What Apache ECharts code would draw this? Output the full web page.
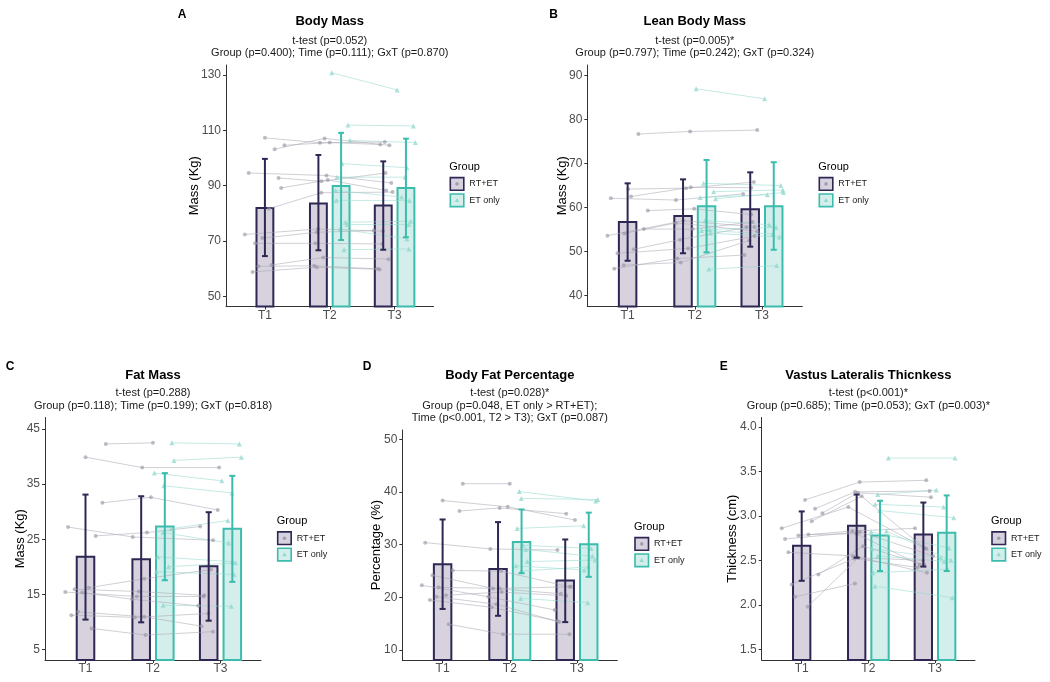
<!DOCTYPE html>
<html><head><meta charset="utf-8">
<script src="https://cdn.jsdelivr.net/npm/echarts@6/dist/echarts.min.js"></script>
<style>html,body{margin:0;padding:0;background:#fff}#c{width:1050px;height:682px}</style>
</head><body><div id="c"></div>
<script>
// ---------- shared categories ----------
const timeLabels = ['T1', 'T2', 'T3'];
const groupNames = ['RT+ET', 'ET only'];

// ---------- A: Body Mass ----------
const A_rtVals = [[107.3,105.5,105.8],[103.2,107.1,104.6],[104.6,105.6,104.9],[94.6,93.7,91.0],[92.8,91.6,94.6],[89.2,92.1,88.3],[81.7,87.5,87.7],[72.4,74.4,73.6],[71.1,73.2,73.8],[69.2,69.2,69.0],[61.4,64.1,63.5],[60.9,61.1,60.0],[58.9,60.6,59.8]];
const A_rtX = [[1.00,1.85,2.85],[1.15,1.92,2.92],[1.30,2.00,2.78],[0.75,1.95,2.95],[1.21,1.87,2.86],[1.25,1.97,2.87],[1.06,1.87,2.97],[0.69,1.82,2.82],[0.96,1.80,2.68],[0.85,1.78,2.81],[1.10,1.90,2.91],[0.90,1.76,2.74],[0.81,1.80,2.77]];
const A_etVals = [[130.8,124.6],[111.9,111.6],[106.4,105.6],[98.0,96.5],[93.1,93.1],[88.3,85.9],[84.7,84.7],[76.8,77.2],[76.0,76.0],[74.4,70.8],[66.9,67.2]];
const A_etX = [[2.03,3.04],[2.28,3.29],[2.31,3.32],[2.19,3.19],[2.11,3.16],[2.09,3.11],[2.10,3.23],[2.24,3.25],[2.27,3.22],[2.16,3.19],[2.22,3.22]];
const A_rtMean = [82.0, 83.6, 82.9];
const A_rtErr = [[64.6,99.7],[66.7,101.1],[66.9,98.8]];
const A_etMean = [89.9, 89.2];
const A_etErr = [[70.4,109.1],[71.4,107.0]];
const A_yTicks = [50, 70, 90, 110, 130];

// ---------- B: Lean Body Mass ----------
const B_rtVals = [[76.7,77.3,77.6],[64.2,64.4,65.8],[62.5,64.6,64.5],[62.1,61.7,63.1],[59.3,59.7,58.4],[55.1,55.1,56.7],[54.1,56.5,54.6],[53.6,57.0,55.6],[50.5,52.7,55.5],[49.6,50.7,53.5],[46.1,48.4,49.2],[46.9,47.5,52.5]];
const B_rtX = [[1.16,1.93,2.93],[1.01,1.87,2.88],[1.05,1.94,2.84],[0.75,1.72,2.72],[1.30,1.99,2.84],[1.24,1.97,2.86],[0.95,1.72,2.93],[0.70,1.83,2.89],[1.09,1.78,2.77],[0.85,1.90,2.89],[0.80,1.74,2.74],[0.94,1.79,2.81]];
const B_etVals = [[87.0,84.7],[65.5,65.0],[63.6,64.0],[62.0,63.4],[62.3,62.9],[57.0,56.1],[55.0,55.5],[54.8,54.0],[54.2,53.3],[46.0,46.8]];
const B_etX = [[2.02,3.04],[2.13,3.28],[2.28,3.31],[2.31,3.32],[2.08,3.08],[2.15,3.11],[2.22,3.21],[2.10,3.16],[2.23,3.26],[2.21,3.22]];
const B_rtMean = [56.7, 58.1, 59.6];
const B_rtErr = [[47.9,65.5],[49.6,66.4],[51.1,68.0]];
const B_etMean = [60.3, 60.3];
const B_etErr = [[49.8,70.8],[50.4,70.3]];
const B_yTicks = [40, 50, 60, 70, 80, 90];

// ---------- C: Fat Mass ----------
const C_rtVals = [[42.3,42.5,null],[39.9,38.0,38.0],[31.6,32.6,30.3],[27.2,25.4,24.8],[25.6,26.2,27.3],[16.2,17.8,19.5],[15.9,15.5,14.8],[15.4,14.6,14.6],[15.3,14.1,12.9],[11.8,10.9,9.2],[11.2,10.8,11.5],[8.8,7.6,8.2]];
const C_rtX = [[1.30,2.00,null],[1.00,1.84,2.98],[1.25,1.97,2.96],[0.74,1.70,2.89],[1.15,1.91,2.70],[1.05,1.87,2.86],[0.84,1.79,2.76],[0.70,1.76,2.75],[0.95,1.69,2.67],[0.89,1.87,2.72],[0.79,1.73,2.82],[1.09,1.89,2.89]];
const C_etVals = [[42.5,42.3],[39.3,39.9],[37.0,35.6],[34.7,33.4],[26.9,28.4],[26.2,24.3],[21.8,20.9],[20.0,20.7],[19.1,18.6],[13.0,12.8]];
const C_etX = [[2.28,3.28],[2.31,3.31],[2.02,3.02],[2.16,3.17],[2.27,3.11],[2.15,3.12],[2.07,3.18],[2.23,3.22],[2.05,3.20],[2.15,3.16]];
const C_rtMean = [21.8, 21.35, 20.1];
const C_rtErr = [[10.4,33.1],[9.9,32.8],[10.2,29.9]];
const C_etMean = [27.3, 26.9];
const C_etErr = [[17.55,37.0],[17.25,36.5]];
const C_yTicks = [5, 15, 25, 35, 45];

// ---------- D: Body Fat Percentage ----------
const D_rtVals = [[41.6,41.6,null],[38.4,37.2,34.7],[36.4,37.0,35.9],[30.4,29.2,29.0],[25.1,25.0,22.0],[24.2,21.7,20.7],[22.3,20.1,17.6],[21.9,21.7,22.0],[20.4,21.0,20.3],[20.1,18.7,15.3],[19.5,18.1,15.5],[14.9,13.0,13.0]];
const D_rtX = [[1.30,2.00,null],[1.00,1.97,2.97],[1.25,1.85,2.84],[0.74,1.71,2.71],[1.15,1.87,2.89],[0.85,1.75,2.76],[0.69,1.68,2.67],[0.94,1.85,2.91],[1.05,1.88,2.84],[0.91,1.80,2.74],[0.81,1.73,2.71],[1.09,1.90,2.89]];
const D_etVals = [[40.1,38.3],[38.8,38.6],[33.1,33.6],[29.9,29.3],[29.1,27.8],[26.8,27.1],[26.0,25.2],[25.0,25.8],[19.8,19.0]];
const D_etX = [[2.14,3.28],[2.17,3.31],[2.11,3.10],[2.19,3.21],[2.24,3.23],[2.26,3.27],[2.09,3.11],[2.17,3.17],[2.16,3.16]];
const D_rtMean = [26.3, 25.4, 23.2];
const D_rtErr = [[17.8,34.8],[16.5,34.3],[15.3,31.0]];
const D_etMean = [30.5, 30.1];
const D_etErr = [[24.6,36.7],[23.9,36.1]];
const D_yTicks = [10, 20, 30, 40, 50];

// ---------- E: Vastus Lateralis Thickness ----------
const E_rtVals = [[3.18,3.38,3.40],[3.08,3.27,3.28],[3.03,3.26,3.21],[2.94,3.22,2.64],[2.86,3.10,2.63],[2.78,2.83,2.86],[2.74,2.82,2.55],[2.79,2.80,2.45],[2.59,2.55,2.36],[2.34,2.66,2.45],[2.23,2.52,2.42],[2.09,2.24,null],[1.98,2.53,2.50]];
const E_rtX = [[1.05,1.87,2.87],[1.20,1.80,2.92],[1.31,1.84,2.94],[1.15,1.90,2.84],[0.70,1.70,2.87],[0.95,1.76,2.70],[0.75,1.87,2.97],[1.10,1.82,2.77],[0.80,1.77,2.88],[1.25,1.92,2.84],[0.85,1.79,2.74],[0.90,1.80,null],[1.09,1.85,2.82]];
const E_etVals = [[3.65,3.65],[3.24,3.29],[3.13,3.10],[3.06,2.98],[2.82,2.64],[2.83,2.50],[2.63,2.53],[2.55,2.49],[2.36,2.40],[2.21,2.08]];
const E_etX = [[2.30,3.30],[2.14,3.02],[2.10,3.13],[2.17,3.28],[2.04,3.21],[2.27,3.24],[2.05,3.09],[2.14,3.14],[2.07,3.19],[2.10,3.26]];
const E_rtMean = [2.665, 2.89, 2.79];
const E_rtErr = [[2.27,3.05],[2.53,3.24],[2.43,3.15]];
const E_etMean = [2.78, 2.81];
const E_etErr = [[2.38,3.17],[2.38,3.23]];
const E_yTicks = [1.5, 2.0, 2.5, 3.0, 3.5, 4.0];

// ---------- styles / layout ----------
const FONT = '"Liberation Sans", Arial, Helvetica, sans-serif';
const RT_STROKE = '#2e2653', RT_FILL = '#d7d2de';
const ET_STROKE = '#3bbcac', ET_FILL = '#d4eeeb';
const RT_PT = '#9691a2', ET_PT = '#8ad5ca';
const RT_LINE = '#aaa8b2', ET_LINE = '#93d8ce';
const BAR_W = 0.26, DODGE = 0.175, CAP = 0.045;
const RT_POS = [1, 2 - DODGE, 3 - DODGE];
const ET_POS = [2 + DODGE, 3 + DODGE];

const panels = [
  {tag:'A', title:'Body Mass', sub:['t-test (p=0.052)','Group (p=0.400); Time (p=0.111); GxT (p=0.870)'], yName:'Mass (Kg)',
   rtVals:A_rtVals, rtX:A_rtX, etVals:A_etVals, etX:A_etX, rtMean:A_rtMean, rtErr:A_rtErr, etMean:A_etMean, etErr:A_etErr, yTicks:A_yTicks, dec:0,
   yRange:[46.4,133.6], grid:{left:226,top:65,width:207.5,height:241.5}, tagXY:[182,15], titleY:21.7, subY:40.7, subGap:12, yNameX:194, leg:[449.3,166.7]},
  {tag:'B', title:'Lean Body Mass', sub:['t-test (p=0.005)*','Group (p=0.797); Time (p=0.242); GxT (p=0.324)'], yName:'Mass (Kg)',
   rtVals:B_rtVals, rtX:B_rtX, etVals:B_etVals, etX:B_etX, rtMean:B_rtMean, rtErr:B_rtErr, etMean:B_etMean, etErr:B_etErr, yTicks:B_yTicks, dec:0,
   yRange:[37.5,92.4], grid:{left:587.3,top:65,width:215,height:241.5}, tagXY:[553.5,15], titleY:21.7, subY:40.7, subGap:12, yNameX:562.5, leg:[818.3,166.7]},
  {tag:'C', title:'Fat Mass', sub:['t-test (p=0.288)','Group (p=0.118); Time (p=0.199); GxT (p=0.818)'], yName:'Mass (Kg)',
   rtVals:C_rtVals, rtX:C_rtX, etVals:C_etVals, etX:C_etX, rtMean:C_rtMean, rtErr:C_rtErr, etMean:C_etMean, etErr:C_etErr, yTicks:C_yTicks, dec:0,
   yRange:[3.06,47.1], grid:{left:45,top:417.5,width:216,height:242.5}, tagXY:[10,366.7], titleY:375, subY:393.3, subGap:12.5, yNameX:20.7, leg:[276.7,521]},
  {tag:'D', title:'Body Fat Percentage', sub:['t-test (p=0.028)*','Group (p=0.048, ET only > RT+ET);','Time (p<0.001, T2 > T3); GxT (p=0.087)'], yName:'Percentage (%)',
   rtVals:D_rtVals, rtX:D_rtX, etVals:D_etVals, etX:D_etX, rtMean:D_rtMean, rtErr:D_rtErr, etMean:D_etMean, etErr:D_etErr, yTicks:D_yTicks, dec:0,
   yRange:[8.1,51.8], grid:{left:402.3,top:430,width:215,height:230}, tagXY:[367,366.7], titleY:375, subY:393.3, subGap:12.5, yNameX:376, leg:[634,526.7]},
  {tag:'E', title:'Vastus Lateralis Thicnkess', sub:['t-test (p<0.001)*','Group (p=0.685); Time (p=0.053); GxT (p=0.003)*'], yName:'Thickness (cm)',
   rtVals:E_rtVals, rtX:E_rtX, etVals:E_etVals, etX:E_etX, rtMean:E_rtMean, rtErr:E_rtErr, etMean:E_etMean, etErr:E_etErr, yTicks:E_yTicks, dec:1,
   yRange:[1.38,4.106], grid:{left:761.7,top:417.5,width:213.3,height:242.5}, tagXY:[723.7,366.7], titleY:375, subY:393.3, subGap:12.5, yNameX:732.5, leg:[991,521]}
];

function txt(x, y, text, font, color, align, rot) {
  const el = {type:'text', x:x, y:y, silent:true, z:100,
    style:{text:text, font:font, fill:color||'#000', align:align||'center', verticalAlign:'middle',
           textAlign:align||'center', textVerticalAlign:'middle'}};
  if (rot) el.rotation = rot;
  return el;
}

function barRenderer(yMin, fill, stroke) {
  return function (params, api) {
    const x = api.value(0), y = api.value(1);
    const tl = api.coord([x - BAR_W / 2, y]);
    const br = api.coord([x + BAR_W / 2, yMin]);
    return {type:'rect', shape:{x:tl[0], y:tl[1], width:br[0]-tl[0], height:br[1]-tl[1]},
            style:{fill:fill, stroke:stroke, lineWidth:2}};
  };
}
function errRenderer(color) {
  return function (params, api) {
    const x = api.value(0), lo = api.value(1), hi = api.value(2);
    const a = api.coord([x, hi]), b = api.coord([x, lo]);
    const c1 = api.coord([x - CAP, hi]), c2 = api.coord([x + CAP, hi]);
    const d1 = api.coord([x - CAP, lo]), d2 = api.coord([x + CAP, lo]);
    const st = {stroke:color, lineWidth:2};
    return {type:'group', children:[
      {type:'line', shape:{x1:a[0], y1:a[1], x2:b[0], y2:b[1]}, style:st},
      {type:'line', shape:{x1:c1[0], y1:c1[1], x2:c2[0], y2:c2[1]}, style:st},
      {type:'line', shape:{x1:d1[0], y1:d1[1], x2:d2[0], y2:d2[1]}, style:st}
    ]};
  };
}
function subjectLines(vals, xs) {
  const out = [];
  vals.forEach((row, s) => {
    const coords = [];
    row.forEach((v, t) => { if (v != null && xs[s][t] != null) coords.push([xs[s][t], v]); });
    if (coords.length > 1) out.push({coords: coords});
  });
  return out;
}
function subjectPoints(vals, xs) {
  const out = [];
  vals.forEach((row, s) => row.forEach((v, t) => { if (v != null && xs[s][t] != null) out.push([xs[s][t], v]); }));
  return out;
}

const option = {animation:false, backgroundColor:'#fff', grid:[], xAxis:[], yAxis:[], series:[], graphic:[]};

panels.forEach((p, i) => {
  option.grid.push({left:p.grid.left, top:p.grid.top, width:p.grid.width, height:p.grid.height});
  option.xAxis.push({type:'value', gridIndex:i, min:0.4, max:3.6,
    axisLine:{show:true, lineStyle:{color:'#333', width:1}},
    axisTick:{show:true, customValues:[1,2,3], length:3, lineStyle:{color:'#333'}},
    axisLabel:{customValues:[1,2,3], formatter:v => timeLabels[Math.round(v) - 1], color:'#4d4d4d', fontSize:12, fontFamily:FONT, margin:3},
    splitLine:{show:false}});
  option.yAxis.push({type:'value', gridIndex:i, min:p.yRange[0], max:p.yRange[1],
    axisLine:{show:true, lineStyle:{color:'#333', width:1}},
    axisTick:{show:true, customValues:p.yTicks, length:3, lineStyle:{color:'#333'}},
    axisLabel:{customValues:p.yTicks, formatter:v => Number(v).toFixed(p.dec), color:'#4d4d4d', fontSize:12, fontFamily:FONT, margin:5},
    splitLine:{show:false}});

  option.series.push({type:'custom', xAxisIndex:i, yAxisIndex:i, z:1, silent:true,
    data:p.rtMean.map((m,k) => [RT_POS[k], m]), renderItem:barRenderer(p.yRange[0], RT_FILL, RT_STROKE)});
  option.series.push({type:'custom', xAxisIndex:i, yAxisIndex:i, z:1, silent:true,
    data:p.etMean.map((m,k) => [ET_POS[k], m]), renderItem:barRenderer(p.yRange[0], ET_FILL, ET_STROKE)});
  option.series.push({type:'lines', coordinateSystem:'cartesian2d', xAxisIndex:i, yAxisIndex:i, polyline:true, z:2, silent:true,
    data:subjectLines(p.rtVals, p.rtX), lineStyle:{color:RT_LINE, width:1, opacity:0.55}});
  option.series.push({type:'lines', coordinateSystem:'cartesian2d', xAxisIndex:i, yAxisIndex:i, polyline:true, z:2, silent:true,
    data:subjectLines(p.etVals, p.etX), lineStyle:{color:ET_LINE, width:1, opacity:0.55}});
  option.series.push({type:'scatter', xAxisIndex:i, yAxisIndex:i, z:3, silent:true, symbol:'circle', symbolSize:4,
    data:subjectPoints(p.rtVals, p.rtX), itemStyle:{color:RT_PT, opacity:0.6}});
  option.series.push({type:'scatter', xAxisIndex:i, yAxisIndex:i, z:3, silent:true, symbol:'triangle', symbolSize:5,
    data:subjectPoints(p.etVals, p.etX), itemStyle:{color:ET_PT, opacity:0.7}});
  option.series.push({type:'custom', xAxisIndex:i, yAxisIndex:i, z:4, silent:true,
    data:p.rtErr.map((e,k) => [RT_POS[k], e[0], e[1]]), renderItem:errRenderer(RT_STROKE)});
  option.series.push({type:'custom', xAxisIndex:i, yAxisIndex:i, z:4, silent:true,
    data:p.etErr.map((e,k) => [ET_POS[k], e[0], e[1]]), renderItem:errRenderer(ET_STROKE)});

  const cx = p.grid.left + p.grid.width / 2;
  option.graphic.push(txt(p.tagXY[0], p.tagXY[1], p.tag, 'bold 12px ' + FONT, '#000'));
  option.graphic.push(txt(cx, p.titleY, p.title, 'bold 13px ' + FONT, '#000'));
  p.sub.forEach((s, k) => option.graphic.push(txt(cx, p.subY + k * p.subGap, s, '11px ' + FONT, '#1a1a1a')));
  option.graphic.push(txt(p.yNameX, p.grid.top + p.grid.height / 2, p.yName, '13px ' + FONT, '#000', 'center', Math.PI / 2));

  const lx = p.leg[0], ly = p.leg[1];
  option.graphic.push(txt(lx, ly, 'Group', '11px ' + FONT, '#000', 'left'));
  const keyY = [ly + 17.2, ly + 33.6];
  option.graphic.push({type:'rect', silent:true, z:100, shape:{x:lx + 1, y:keyY[0] - 6.3, width:13.5, height:12.6},
    style:{fill:RT_FILL, stroke:RT_STROKE, lineWidth:1.6}});
  option.graphic.push({type:'circle', silent:true, z:101, shape:{cx:lx + 7.75, cy:keyY[0], r:1.8}, style:{fill:RT_PT, opacity:0.8}});
  option.graphic.push({type:'rect', silent:true, z:100, shape:{x:lx + 1, y:keyY[1] - 6.3, width:13.5, height:12.6},
    style:{fill:ET_FILL, stroke:ET_STROKE, lineWidth:1.6}});
  option.graphic.push({type:'polygon', silent:true, z:101, shape:{points:[[lx + 7.75, keyY[1] - 2.3], [lx + 5.6, keyY[1] + 1.6], [lx + 9.9, keyY[1] + 1.6]]},
    style:{fill:ET_PT, opacity:0.9}});
  option.graphic.push(txt(lx + 20, keyY[0], groupNames[0], '9px ' + FONT, '#1a1a1a', 'left'));
  option.graphic.push(txt(lx + 20, keyY[1], groupNames[1], '9px ' + FONT, '#1a1a1a', 'left'));
});

const chart = echarts.init(document.getElementById('c'), null, {renderer:'canvas'});
chart.setOption(option);
</script>
</body></html>
